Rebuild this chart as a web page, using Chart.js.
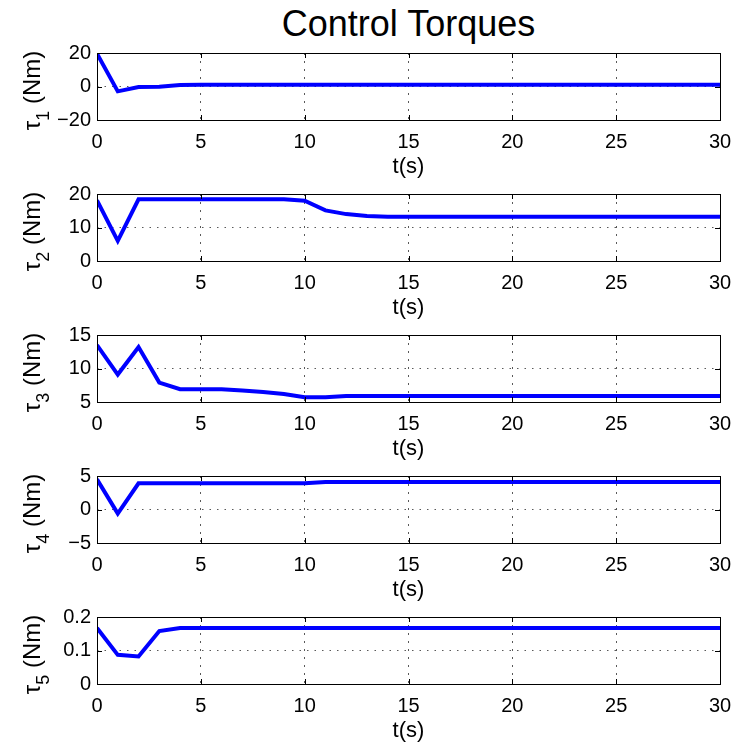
<!DOCTYPE html>
<html>
<head>
<meta charset="utf-8">
<script src="https://cdn.jsdelivr.net/npm/chart.js@4"></script>
<style>
  body { margin: 0; background: #fff; }
  #wrap { position: relative; width: 733px; height: 746px; }
  #title {
    position: absolute; left: 97px; width: 623px; top: 6px;
    text-align: center; font: 36px/36px "Liberation Sans", Arial, sans-serif; color: #000;
  }
  canvas { position: absolute; left: 0; }
</style>
</head>
<body>
<div id="wrap">
  <div id="title">Control Torques</div>
  <canvas id="c1" width="733" height="141" style="top:39px"></canvas>
  <canvas id="c2" width="733" height="141" style="top:180px"></canvas>
  <canvas id="c3" width="733" height="141" style="top:321px"></canvas>
  <canvas id="c4" width="733" height="141" style="top:462px"></canvas>
  <canvas id="c5" width="733" height="141" style="top:603px"></canvas>
</div>
<script>
// time samples (s)
const time = [0, 1, 2, 3, 4, 5, 6, 7, 8, 9, 10, 11, 12, 13, 14, 15, 16, 17, 18, 19, 20,
              21, 22, 23, 24, 25, 26, 27, 28, 29, 30];

// control torques
const tau1 = [19.6, -2.9, -0.3, -0.2, 0.9, 1, 1, 1, 1, 1, 1, 1, 1, 1, 1, 1, 1, 1, 1, 1, 1,
              1, 1, 1, 1, 1, 1, 1, 1, 1, 1];
const tau2 = [18.1, 6.0, 18.4, 18.4, 18.4, 18.4, 18.4, 18.4, 18.4, 18.4, 18.0, 15.1, 14.0, 13.4,
              13.2, 13.2, 13.2, 13.2, 13.2, 13.2, 13.2, 13.2, 13.2, 13.2, 13.2, 13.2, 13.2, 13.2,
              13.2, 13.2, 13.2];
const tau3 = [13.5, 9.1, 13.2, 7.9, 6.9, 6.9, 6.9, 6.7, 6.5, 6.2, 5.7, 5.7, 5.9, 5.9, 5.9, 5.9,
              5.9, 5.9, 5.9, 5.9, 5.9, 5.9, 5.9, 5.9, 5.9, 5.9, 5.9, 5.9, 5.9, 5.9, 5.9];
const tau4 = [4.5, -0.6, 3.9, 3.9, 3.9, 3.9, 3.9, 3.9, 3.9, 3.9, 3.9, 4.1, 4.1, 4.1, 4.1, 4.1,
              4.1, 4.1, 4.1, 4.1, 4.1, 4.1, 4.1, 4.1, 4.1, 4.1, 4.1, 4.1, 4.1, 4.1, 4.1];
const tau5 = [0.167, 0.087, 0.082, 0.158, 0.167, 0.167, 0.167, 0.167, 0.167, 0.167, 0.167,
              0.167, 0.167, 0.167, 0.167, 0.167, 0.167, 0.167, 0.167, 0.167, 0.167, 0.167,
              0.167, 0.167, 0.167, 0.167, 0.167, 0.167, 0.167, 0.167, 0.167];

// y axis ranges [min, max, step]
const yRanges = [[-20, 20, 20], [0, 20, 10], [5, 15, 5], [-5, 5, 5], [0, 0.2, 0.1]];
const xTicks = [0, 30, 5];

const FONT = '"Liberation Sans", Arial, sans-serif';

// box around the plot with small inward ticks, like matlab
const boxPlugin = {
    id: 'box',
    afterDraw(chart) {
        const {ctx, chartArea: a, scales} = chart;
        ctx.save();
        ctx.strokeStyle = '#000';
        ctx.lineWidth = 1;
        ctx.setLineDash([]);
        ctx.beginPath();
        scales.x.ticks.forEach(t => {
            const px = Math.round(scales.x.getPixelForValue(t.value)) + 0.5;
            ctx.moveTo(px, a.bottom); ctx.lineTo(px, a.bottom - 5);
            ctx.moveTo(px, a.top); ctx.lineTo(px, a.top + 5);
        });
        scales.y.ticks.forEach(t => {
            const py = Math.round(scales.y.getPixelForValue(t.value)) + 0.5;
            ctx.moveTo(a.left, py); ctx.lineTo(a.left + 5, py);
            ctx.moveTo(a.right, py); ctx.lineTo(a.right - 5, py);
        });
        ctx.stroke();
        ctx.strokeRect(Math.round(a.left) + 0.5, Math.round(a.top) + 0.5,
                       Math.round(a.right - a.left), Math.round(a.bottom - a.top));
        ctx.restore();
    }
};

// rotated y label with subscript: tau_i (Nm)
const yLabelPlugin = {
    id: 'yLabel',
    afterDraw(chart, args, opts) {
        const {ctx, chartArea: a} = chart;
        const cy = (a.top + a.bottom) / 2 + 4;
        const big = '24px ' + FONT, small = '18px ' + FONT;
        ctx.save();
        ctx.translate(opts.x, cy);
        ctx.rotate(-Math.PI / 2);
        ctx.fillStyle = '#000';
        ctx.textBaseline = 'alphabetic';
        ctx.textAlign = 'left';
        ctx.font = big;
        const w1 = ctx.measureText('\u03c4').width;
        const w3 = ctx.measureText(' (Nm)').width;
        ctx.font = small;
        const w2 = ctx.measureText(opts.sub).width;
        let x = -(w1 + w2 + w3) / 2;
        ctx.font = big; ctx.fillText('\u03c4', x, 0); x += w1;
        ctx.font = small; ctx.fillText(opts.sub, x, 9); x += w2;
        ctx.font = big; ctx.fillText(' (Nm)', x, 0);
        ctx.restore();
    }
};

function makePanel(id, values, range, sub) {
    const ctx = document.getElementById(id).getContext('2d');
    new Chart(ctx, {
        type: 'line',
        data: {
            datasets: [{
                data: time.map((t, i) => ({x: t, y: values[i]})),
                borderColor: '#0000ff',
                borderWidth: 4,
                pointRadius: 0,
                fill: false,
                tension: 0
            }]
        },
        options: {
            responsive: false,
            animation: false,
            layout: { padding: { top: 14, right: 13, left: 0, bottom: 0 } },
            scales: {
                x: {
                    type: 'linear',
                    min: xTicks[0],
                    max: xTicks[1],
                    afterFit: s => { s.height = 60; s.paddingLeft = 0; s.paddingRight = 0; },
                    ticks: {
                        stepSize: xTicks[2],
                        padding: 10,
                        color: '#000',
                        font: { family: FONT, size: 20 },
                        maxRotation: 0
                    },
                    grid: { color: 'rgba(0,0,0,0.65)', lineWidth: 1, drawTicks: false },
                    border: { display: false, dash: [2, 6] },
                    title: {
                        display: true,
                        text: 't(s)',
                        color: '#000',
                        font: { family: FONT, size: 22 },
                        padding: { top: 0, bottom: 0 }
                    }
                },
                y: {
                    min: range[0],
                    max: range[1],
                    afterFit: s => { s.width = 97; s.paddingTop = 0; s.paddingBottom = 0; },
                    ticks: {
                        stepSize: range[2],
                        padding: 6,
                        color: '#000',
                        font: { family: FONT, size: 20 },
                        callback: v => String(Math.round(v * 100) / 100).replace('-', '\u2212')
                    },
                    grid: { color: 'rgba(0,0,0,0.65)', lineWidth: 1, drawTicks: false },
                    border: { display: false, dash: [1.5, 6] }
                }
            },
            plugins: {
                legend: { display: false },
                tooltip: { enabled: false },
                yLabel: { x: 40, sub: sub }
            }
        },
        plugins: [boxPlugin, yLabelPlugin]
    });
}

makePanel('c1', tau1, yRanges[0], '1');
makePanel('c2', tau2, yRanges[1], '2');
makePanel('c3', tau3, yRanges[2], '3');
makePanel('c4', tau4, yRanges[3], '4');
makePanel('c5', tau5, yRanges[4], '5');
</script>
</body>
</html>
